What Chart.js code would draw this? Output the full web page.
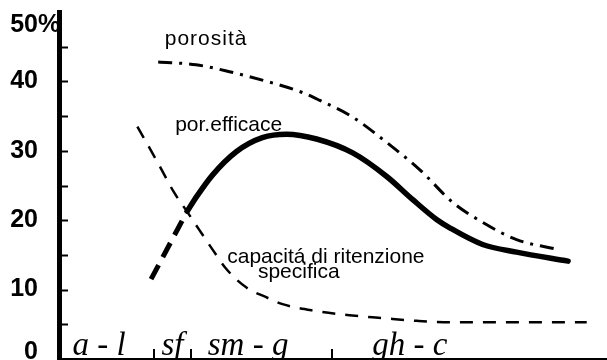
<!DOCTYPE html>
<html lang="it">
<head>
<meta charset="utf-8">
<title>Porosità ed efficace</title>
<script src="https://cdn.jsdelivr.net/npm/chart.js@4"></script>
<style>
  body { margin: 0; background: #fff; }
  #wrap { position: relative; width: 607px; height: 360px; }
</style>
</head>
<body>
<div id="wrap"><canvas id="chart"></canvas></div>
<script>
// Grain size classes along the bottom (x runs 0-100)
const classLabels = ['a - l', 'sf', 'sm - g', 'gh - c'];
const classCenters = [7.3, 20.7, 34.5, 64.0];
const classBounds = [17.4, 24.1, 49.9];

// Y axis
const yTicks = [0, 10, 20, 30, 40, 50];
const yTickLabels = ['0', '10', '20', '30', '40', '50%'];
const yMinorStep = 5;

// porosità (dash-dot)
const porositaX = [18.1, 25.0, 31.1, 38.4, 44.4, 47.5, 53.5, 59.8, 65.8, 71.8, 77.3, 83.5, 90.9];
const porositaY = [42.8, 42.4, 41.4, 39.9, 38.4, 37.3, 34.9, 31.2, 27.3, 22.6, 19.7, 17.2, 15.8];

// por. efficace (thick line) and its dashed start
const efficaceX = [23.4, 25.2, 28.0, 32.4, 37.1, 41.5, 47.0, 53.6, 59.8, 64.5, 68.9, 71.3, 77.3, 83.5, 92.9];
const efficaceY = [21.3, 23.5, 26.5, 29.9, 31.9, 32.4, 31.7, 29.7, 26.3, 23.0, 20.1, 18.9, 16.5, 15.4, 14.1];
const efficaceStartX = [16.8, 23.4];
const efficaceStartY = [11.5, 21.3];

// capacità di ritenzione specifica (dashed)
const ritenzioneX = [14.3, 18.3, 21.0, 23.4, 25.6, 28.0, 30.5, 34.2, 37.8, 40.8, 47.0, 53.0, 59.0, 65.3, 71.3, 80.4, 96.3];
const ritenzioneY = [33.5, 27.9, 24.0, 21.2, 18.6, 15.8, 13.0, 10.3, 8.9, 7.9, 6.9, 6.3, 5.9, 5.5, 5.3, 5.3, 5.3];

// Curve captions, anchored in data units (left edge, baseline)
const curveLabels = [
  { text: 'porosità', x: 19.3, y: 45.2, spacing: '1px' },
  { text: 'por.efficace', x: 21.2, y: 32.9, spacing: '0px' },
  { text: 'capacitá di ritenzione', x: 30.7, y: 13.8, spacing: '0px' },
  { text: 'specifica', x: 36.3, y: 11.7, spacing: '0px' }
];

const toPoints = (xs, ys) => xs.map((x, i) => ({ x, y: ys[i] }));

const decorations = {
  id: 'decorations',
  afterDraw(chart) {
    const { ctx, chartArea, scales: { x, y } } = chart;
    const base = y.getPixelForValue(0);
    ctx.save();
    ctx.fillStyle = '#000';
    ctx.strokeStyle = '#000';

    // base line
    ctx.lineWidth = 2;
    ctx.beginPath();
    ctx.moveTo(chartArea.left, base);
    ctx.lineTo(chartArea.right, base);
    ctx.stroke();

    // tick marks pointing into the plot
    for (let v = yMinorStep; v < y.max; v += yMinorStep) {
      const py = Math.round(y.getPixelForValue(v)) + 0.5;
      ctx.beginPath();
      ctx.moveTo(chartArea.left, py);
      ctx.lineTo(chartArea.left + 9, py);
      ctx.stroke();
    }

    // y labels, right-aligned on the digits
    ctx.font = "bold 25px 'Liberation Sans Narrow', 'Liberation Sans', sans-serif";
    ctx.textBaseline = 'middle';
    ctx.textAlign = 'left';
    const labelRight = chartArea.left - 21;
    yTicks.forEach((v, i) => {
      const label = yTickLabels[i];
      const w = ctx.measureText(label.replace('%', '')).width;
      const py = Math.min(Math.max(y.getPixelForValue(v), 25), 352);
      ctx.fillText(label, labelRight - w, py);
    });

    // class boundaries on the base line
    ctx.lineWidth = 2;
    classBounds.forEach(b => {
      const px = Math.round(x.getPixelForValue(b));
      ctx.beginPath();
      ctx.moveTo(px, base);
      ctx.lineTo(px, base - 10);
      ctx.stroke();
    });

    // class names
    ctx.font = "italic 33px 'Liberation Serif', 'DejaVu Serif', serif";
    ctx.textAlign = 'center';
    ctx.textBaseline = 'alphabetic';
    classLabels.forEach((t, i) => {
      ctx.fillText(t, x.getPixelForValue(classCenters[i]), base - 4);
    });

    // curve captions
    ctx.font = "21px 'Liberation Sans', Arial, sans-serif";
    ctx.textAlign = 'left';
    curveLabels.forEach(l => {
      ctx.letterSpacing = l.spacing;
      ctx.fillText(l.text, x.getPixelForValue(l.x), y.getPixelForValue(l.y));
    });
    ctx.restore();
  }
};

document.addEventListener('DOMContentLoaded', () => {
  const ctx = document.getElementById('chart');
  new Chart(ctx, {
    type: 'line',
    data: {
      datasets: [
        {
          label: 'porosità',
          data: toPoints(porositaX, porositaY),
          borderColor: '#000',
          borderWidth: 3,
          borderDash: [14, 7, 3, 7],
          cubicInterpolationMode: 'monotone'
        },
        {
          label: 'capacità di ritenzione specifica',
          data: toPoints(ritenzioneX, ritenzioneY),
          borderColor: '#000',
          borderWidth: 2.5,
          borderDash: [13, 10],
          cubicInterpolationMode: 'monotone'
        },
        {
          label: 'por. efficace (inizio)',
          data: toPoints(efficaceStartX, efficaceStartY),
          borderColor: '#000',
          borderWidth: 5,
          borderDash: [16, 9]
        },
        {
          label: 'por. efficace',
          data: toPoints(efficaceX, efficaceY),
          borderColor: '#000',
          borderWidth: 5.5,
          borderCapStyle: 'round',
          cubicInterpolationMode: 'monotone'
        }
      ]
    },
    options: {
      responsive: true,
      maintainAspectRatio: false,
      animation: false,
      layout: { padding: { top: 12, bottom: 1, left: 0, right: 0 } },
      elements: { point: { radius: 0 } },
      plugins: { legend: { display: false }, tooltip: { enabled: false } },
      scales: {
        x: { type: 'linear', min: 0, max: 100, display: false },
        y: {
          min: 0,
          max: 50,
          ticks: { display: false },
          grid: { display: false },
          border: { display: true, width: 5, color: '#000' },
          afterFit(scale) { scale.width = 59; }
        }
      }
    },
    plugins: [decorations]
  });
});
</script>
</body>
</html>
